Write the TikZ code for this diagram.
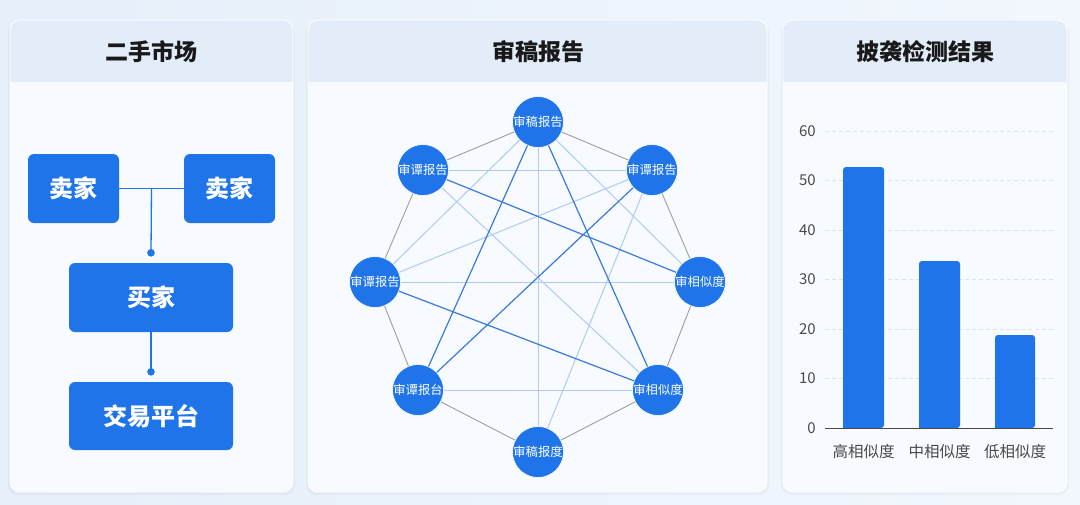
\documentclass[tikz,border=0pt]{standalone}
\usepackage{fontspec}
\setmainfont{Noto Sans CJK SC}
\usetikzlibrary{calc}
\definecolor{bgA}{HTML}{E6EFFA}
\definecolor{bgB}{HTML}{F2F7FD}
\definecolor{panelfill}{HTML}{F7FAFE}
\definecolor{headfill}{HTML}{E3EDFA}
\definecolor{boxblue}{HTML}{1E74E8}
\definecolor{darkline}{HTML}{3C79DA}
\definecolor{lightline}{HTML}{B0CBF3}
\definecolor{grayline}{HTML}{9E9E9E}
\definecolor{gridgray}{HTML}{DCE2EA}
\definecolor{axisgray}{HTML}{4A4A4A}
\definecolor{labelgray}{HTML}{4A4A4A}
\tikzset{
  panelbox/.style={fill=panelfill, draw=white, line width=1pt, rounded corners=10pt},
  titletext/.style={font=\fontsize{23}{26}\selectfont\bfseries, text=black!90},
  bbox/.style={fill=boxblue, rounded corners=6pt, text=white, font=\fontsize{24}{28}\selectfont\bfseries, inner sep=0pt},
  link/.style={draw=boxblue, line width=1.3pt},
  linkdot/.style={fill=boxblue, draw=none},
  gnode/.style={circle, fill=boxblue, draw=white, line width=0.6pt, minimum size=51pt, inner sep=0pt, text=white, font=\fontsize{12.3}{14}\selectfont},
  outeredge/.style={draw=grayline, line width=0.9pt},
  darkedge/.style={draw=darkline, line width=1.2pt},
  lightedge/.style={draw=lightline, line width=1pt},
  gridline/.style={draw=gridgray, line width=0.7pt, dash pattern=on 4pt off 3pt},
  barfill/.style={fill=boxblue, draw=none, rounded corners=3pt},
  ticklabel/.style={font=\fontsize{15}{17}\selectfont, text=labelgray, anchor=east, inner sep=0pt},
  catlabel/.style={font=\fontsize{15.5}{17}\selectfont, text=labelgray, inner sep=0pt},
}
\begin{document}
\begin{tikzpicture}[x=1pt, y=-1pt]
\useasboundingbox (0,0) rectangle (1080,504);
\shade[left color=bgA, right color=bgB] (0,0) rectangle (1080,504);

% ---------- panels ----------
\foreach \xa/\xb in {10/293, 308/767, 783/1067}{
  \fill[black, opacity=0.03, rounded corners=10pt] (\xa-2,22) rectangle (\xb+2,495);
  \fill[panelfill, rounded corners=10pt] (\xa,20) rectangle (\xb,492);
  \begin{scope}
    \clip[rounded corners=10pt] (\xa,20) rectangle (\xb,492);
    \fill[headfill] (\xa,20) rectangle (\xb,82);
  \end{scope}
  \draw[white, line width=0.8pt, rounded corners=10pt] (\xa,20) rectangle (\xb,492);
}
\node[titletext] (t1) at (151.5,52) {二手市场};
\node[titletext] (t2) at (538,52) {审稿报告};
\node[titletext] (t3) at (925,52) {披袭检测结果};

% ---------- left diagram ----------
\node[bbox, minimum width=91pt, minimum height=69pt] (s1) at (73.5,188.5) {卖家};
\node[bbox, minimum width=91pt, minimum height=69pt] (s2) at (229.5,188.5) {卖家};
\node[bbox, minimum width=164pt, minimum height=69pt] (buyer) at (151,297.5) {买家};
\node[bbox, minimum width=164pt, minimum height=68pt] (plat) at (151,416) {交易平台};
\coordinate (jn) at ($(s1.east)!0.5!(s2.west)$);
\coordinate (d1) at ([yshift=10pt]buyer.north);
\coordinate (d2) at ([yshift=10pt]plat.north);
\draw[link] (s1.east) -- (s2.west);
\draw[link] (jn) -- (d1);
\draw[link] (buyer.south) -- (d2);
\fill[linkdot] (d1) circle (3.8pt);
\fill[linkdot] (d2) circle (3.8pt);

% ---------- network ----------
\node[gnode] (n0) at (538,122) {审稿报告};
\node[gnode] (n1) at (423,170) {审谭报告};
\node[gnode] (n2) at (652,170) {审谭报告};
\node[gnode] (n3) at (375,282) {审谭报告};
\node[gnode] (n4) at (700,282) {审相似度};
\node[gnode] (n5) at (418,390) {审谭报台};
\node[gnode] (n6) at (658,390) {审相似度};
\node[gnode] (n7) at (538,452) {审稿报度};
% outer ring
\draw[outeredge] (n0) -- (n1);
\draw[outeredge] (n0) -- (n2);
\draw[outeredge] (n1) -- (n3);
\draw[outeredge] (n2) -- (n4);
\draw[outeredge] (n3) -- (n5);
\draw[outeredge] (n4) -- (n6);
\draw[outeredge] (n5) -- (n7);
\draw[outeredge] (n6) -- (n7);
% light chords
\draw[lightedge] (n1) -- (n2);
\draw[lightedge] (n3) -- (n4);
\draw[lightedge] (n5) -- (n6);
\draw[lightedge] (n0) -- (n7);
\draw[lightedge] (n0) -- (n3);
\draw[lightedge] (n0) -- (n4);
\draw[lightedge] (n1) -- (n6);
\draw[lightedge] (n2) -- (n3);
\draw[lightedge] (n2) -- (n7);
% dark chords
\draw[darkedge] (n0) -- (n5);
\draw[darkedge] (n0) -- (n6);
\draw[darkedge] (n1) -- (n4);
\draw[darkedge] (n2) -- (n5);
\draw[darkedge] (n3) -- (n6);

% ---------- chart ----------
\foreach \v/\yy in {10/378.5, 20/329, 30/279.5, 40/230, 50/180.5, 60/131}{
  \draw[gridline] (825,\yy) -- (1053,\yy);
  \node[ticklabel] at (816,\yy) {\v};
}
\node[ticklabel] at (816,428) {0};
\fill[barfill] (843,428) -- (843,167) -- (884,167) -- (884,428) [sharp corners] -- cycle;
\fill[barfill] (919,428) -- (919,261) -- (960,261) -- (960,428) [sharp corners] -- cycle;
\fill[barfill] (995,428) -- (995,335) -- (1035,335) -- (1035,428) [sharp corners] -- cycle;
\draw[axisgray, line width=1pt] (825,428) -- (1053,428);
\node[catlabel] (c1) at (863.5,452) {高相似度};
\node[catlabel] (c2) at (939.5,452) {中相似度};
\node[catlabel] (c3) at (1015,452) {低相似度};
\end{tikzpicture}
\end{document}
